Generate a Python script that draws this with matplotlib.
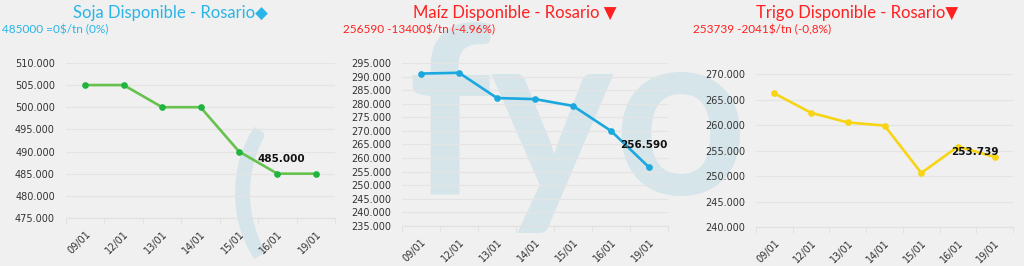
import matplotlib.pyplot as plt
from matplotlib.ticker import FuncFormatter, FixedLocator

# ----------------------------
# Data
# ----------------------------
dates = ['09/01', '12/01', '13/01', '14/01', '15/01', '16/01', '19/01']

soja = [505000, 505000, 500000, 500000, 490000, 485000, 485000]
maiz = [291100, 291400, 282100, 281700, 279200, 269990, 256590]
trigo = [266200, 262400, 260500, 259900, 250600, 255780, 253739]

titles = ['Soja Disponible - Rosario\u25c6',
          'Maíz Disponible - Rosario \u25bc',
          'Trigo Disponible - Rosario\u25bc']
subtitles = ['485000 =0$/tn (0%)',
             '256590 -13400$/tn (-4.96%)',
             '253739 -2041$/tn (-0,8%)']

BG = '#f0f0f0'
WM = '#d6e5ea'
TXT = '#333333'

fig = plt.figure(figsize=(10.24, 2.66), dpi=100, facecolor=BG)

# watermark logo (behind everything)
fig.text(0.243, 0.02, '(', fontsize=100, color=WM, family='Lato',
         fontweight='bold', ha='center', va='bottom', zorder=-5)
fig.text(0.398, 0.27, 'fyo', fontsize=168, color=WM, family='Lato',
         fontweight='bold', ha='left', va='baseline', zorder=-5)


def money(v, pos=None):
    return f'{v:,.0f}'.replace(',', '.')


# ----------------------------
# Panels
# ----------------------------
panels = [
    dict(data=soja, color='#66c24d', mcolor='#1fb43d', rect=[0.0645, 0.1805, 0.2627, 0.583],
         ylim=(475000, 510000), step=5000, tcol='#29b5e8', tx=170, sx=2,
         lbl=(-35, 15)),
    dict(data=maiz, color='#1ba8df', mcolor='#1ba8df', rect=[0.3926, 0.1504, 0.2598, 0.6128],
         ylim=(235000, 295000), step=5000, tcol='#ff2020', tx=515, sx=343,
         lbl=(-5, 22)),
    dict(data=trigo, color='#f7d414', mcolor='#f7d414', rect=[0.7383, 0.1466, 0.251, 0.575],
         ylim=(240000, 270000), step=5000, tcol='#ff2020', tx=857, sx=693,
         lbl=(-20, 5)),
]

for i, p in enumerate(panels):
    ax = fig.add_axes(p['rect'])
    ax.patch.set_alpha(0)
    x = list(range(len(dates)))
    ax.plot(x, p['data'], color=p['color'], lw=1.9, marker='o', ms=3.8,
            mfc=p['mcolor'], mec=p['mcolor'], zorder=3, clip_on=False)
    ax.set_xlim(-0.5, len(dates) - 0.5)
    ax.set_ylim(*p['ylim'])
    lo, hi = p['ylim']
    ax.yaxis.set_major_locator(FixedLocator(range(lo, hi + 1, p['step'])))
    ax.yaxis.set_major_formatter(FuncFormatter(money))
    ax.grid(axis='y', color='#e4e4e4', lw=0.9)
    ax.set_axisbelow(True)
    for s in ['top', 'right', 'left']:
        ax.spines[s].set_visible(False)
    ax.spines['bottom'].set_color('#e0e0e0')
    ax.tick_params(axis='y', length=0, labelsize=7, labelcolor=TXT, pad=8)
    ax.set_xticks(x)
    ax.set_xticklabels(dates, rotation=45, ha='right', rotation_mode='anchor',
                       fontsize=7, color=TXT)
    ax.tick_params(axis='x', length=0, pad=8)
    ax.set_xticks([v - 0.5 for v in range(len(dates) + 1)], minor=True)
    ax.tick_params(axis='x', which='minor', length=4, color='#e0e0e0')

    last = p['data'][-1]
    ax.annotate(money(last), xy=(x[-1], last), xytext=p['lbl'],
                textcoords='offset pixels', ha='center', va='center',
                fontsize=7.5, fontweight='bold', color='#111111', zorder=5)

    fig.text(p['tx'] / 1024, 1 - 13 / 266, titles[i], fontsize=12,
             family=['Lato', 'DejaVu Sans'], color=p['tcol'], ha='center', va='center')
    fig.text(p['sx'] / 1024, 1 - 30 / 266, subtitles[i], fontsize=8.5,
             family=['Lato', 'DejaVu Sans'], color=p['tcol'], ha='left', va='center')

plt.savefig('out.png', dpi=100, facecolor=BG)
